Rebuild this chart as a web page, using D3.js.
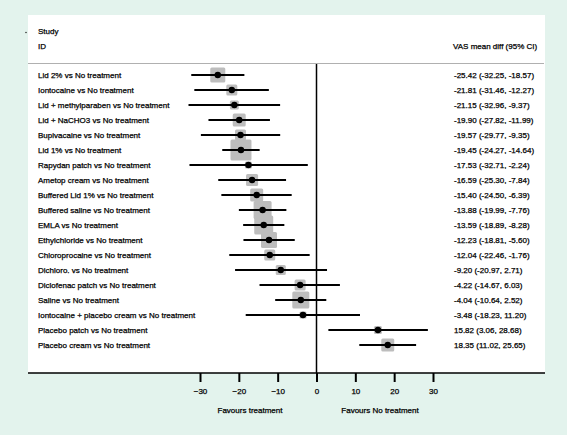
<!DOCTYPE html>
<html><head><meta charset="utf-8">
<script src="https://cdn.jsdelivr.net/npm/d3@7"></script>
<style>
html,body{margin:0;padding:0;background:#e3f3ed;}
svg{display:block;font-family:"Liberation Sans",Arial,Helvetica,sans-serif;}
svg text{fill:#000;stroke:#000;stroke-width:0.25px;}
</style></head>
<body><svg id="c" width="567" height="435"></svg>
<script>
const studies = ["Lid 2% vs No treatment","Iontocaine vs No treatment","Lid + methylparaben vs No treatment","Lid + NaCHO3 vs No treatment","Bupivacaine vs No treatment","Lid 1% vs No treatment","Rapydan patch vs No treatment","Ametop cream vs No treatment","Buffered Lid 1% vs No treatment","Buffered saline vs No treatment","EMLA vs No treatment","Ethylchloride vs No treatment","Chloroprocaine vs No treatment","Dichloro. vs No treatment","Diclofenac patch vs No treatment","Saline vs No treatment","Iontocaine + placebo cream vs No treatment","Placebo patch vs No treatment","Placebo cream vs No treatment"];
const means = [-25.42,-21.81,-21.15,-19.90,-19.57,-19.45,-17.53,-16.59,-15.40,-13.88,-13.59,-12.23,-12.04,-9.20,-4.22,-4.04,-3.48,15.82,18.35];
const lower = [-32.25,-31.46,-32.96,-27.82,-29.77,-24.27,-32.71,-25.30,-24.50,-19.99,-18.89,-18.81,-22.46,-20.97,-14.67,-10.64,-18.23,3.06,11.02];
const upper = [-18.57,-12.27,-9.37,-11.99,-9.35,-14.64,-2.24,-7.84,-6.39,-7.76,-8.28,-5.60,-1.76,2.71,6.03,2.52,11.20,28.68,25.65];
const weights = [6.7,3.6,2.4,5.0,3.6,13.1,1.5,4.3,5.0,9.6,10.7,7.6,3.6,3.0,3.6,8.6,1.5,1.9,5.0];
const xTicks = [-30,-20,-10,0,10,20,30];
const leftLabel = "Favours treatment", rightLabel = "Favours No treatment";

const svg = d3.select("#c");
const x = d3.scaleLinear().domain([-30,30]).range([200,433]);
const y = d3.scalePoint().domain(studies).range([75,345]);
const s = d3.scaleSqrt().domain([0,13.1]).range([0,21]);
const fmt = v => v.toFixed(2);

// panel
svg.append("rect").attr("x",28).attr("y",15).attr("width",517).attr("height",358).attr("fill","#fff");
svg.append("circle").attr("cx",26).attr("cy",32.5).attr("r",0.8).attr("fill","#333");
svg.append("text").attr("x",38).attr("y",34).attr("font-size",8).text("Study");
svg.append("text").attr("x",38).attr("y",49).attr("font-size",8).text("ID");
svg.append("text").attr("x",453).attr("y",49).attr("font-size",8).text("VAS mean diff (95% CI)");
svg.append("line").attr("x1",28).attr("x2",544).attr("y1",63.5).attr("y2",63.5).attr("stroke","#b0b0b0").attr("stroke-width",1);

// zero line
svg.append("line").attr("x1",x(0)).attr("x2",x(0)).attr("y1",64).attr("y2",373).attr("stroke","#000").attr("stroke-width",1.5);

const rows = svg.append("g").selectAll("g").data(studies).join("g");
rows.append("rect")
  .attr("x",(d,i)=>x(means[i])-s(weights[i])/2)
  .attr("y",(d,i)=>y(d)-s(weights[i])/2)
  .attr("width",(d,i)=>s(weights[i])).attr("height",(d,i)=>s(weights[i]))
  .attr("rx",1.5).attr("fill","#bdbdbd");
rows.append("line")
  .attr("x1",(d,i)=>x(lower[i])).attr("x2",(d,i)=>x(upper[i]))
  .attr("y1",d=>y(d)).attr("y2",d=>y(d))
  .attr("stroke","#000").attr("stroke-width",2);
rows.append("circle").attr("cx",(d,i)=>x(means[i])).attr("cy",d=>y(d)).attr("r",3.2).attr("fill","#000");
rows.append("text").attr("x",38).attr("y",d=>y(d)+3).attr("font-size",8).text(d=>d);
rows.append("text").attr("x",454).attr("y",d=>y(d)+3).attr("font-size",8)
  .text((d,i)=>`${fmt(means[i])} (${fmt(lower[i])}, ${fmt(upper[i])})`);

// axis
svg.append("line").attr("x1",28).attr("x2",545).attr("y1",373).attr("y2",373).attr("stroke","#000").attr("stroke-width",1.5);
const ax = svg.append("g").attr("transform","translate(0,373)")
  .call(d3.axisBottom(x).tickValues(xTicks).tickSize(9).tickPadding(6).tickFormat(d3.format("d")));
ax.select(".domain").remove();
ax.selectAll(".tick line").attr("stroke","#000").attr("stroke-width",2);
ax.selectAll(".tick text").attr("font-size",8).attr("fill","#000").attr("font-family","Liberation Sans, Arial, sans-serif");

svg.append("text").attr("x",250).attr("y",413).attr("font-size",8).attr("text-anchor","middle").text(leftLabel);
svg.append("text").attr("x",380).attr("y",413).attr("font-size",8).attr("text-anchor","middle").text(rightLabel);
</script></body></html>
